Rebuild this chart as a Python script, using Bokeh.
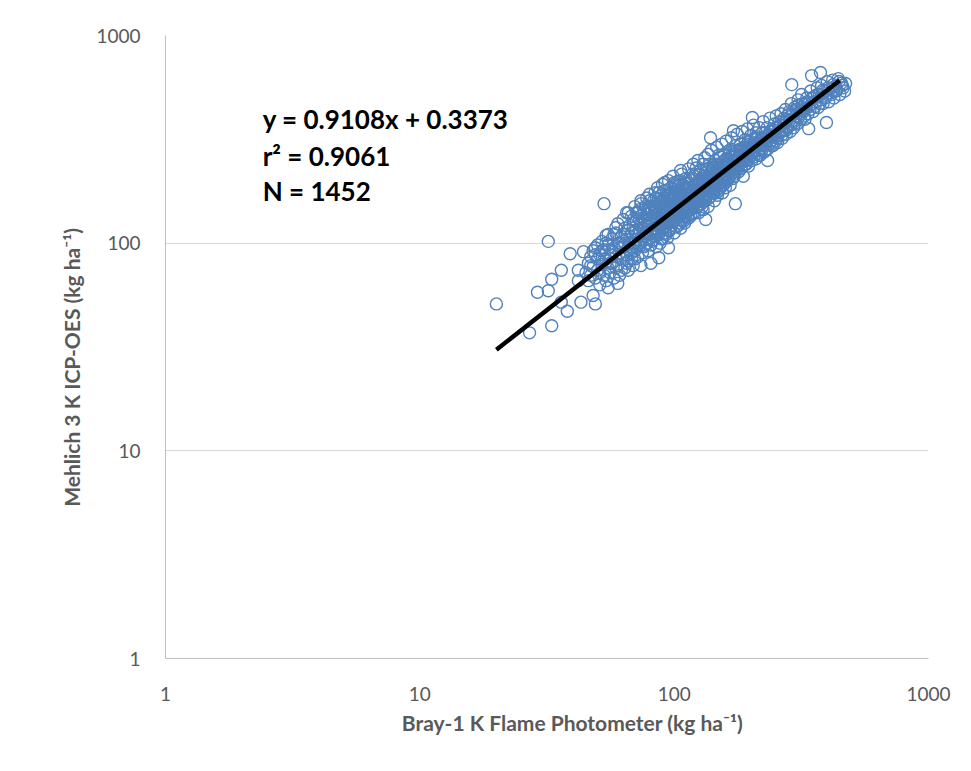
from bokeh.plotting import figure
from bokeh.models import Range1d, FixedTicker, PrintfTickFormatter, Label
from bokeh.embed import file_html
from bokeh.resources import INLINE

# ---- data (Bray-1 K vs Mehlich 3 K, kg/ha) ----
outlier_pts = [(20,51),(27,37),(29,58),(32,59),(33,40),(33,67),(32,102),(36,74),(36,52),(38,47),
    (39,89),(42,74),(42,66),(43,52),(44,91),(46,66),(48,56),(49,51),(49,95),(53,155),(54,109),
    (55,61),(59,119),(60,64),(66,74),(66,140),(74,78),(74,160),(81,80),(87,85),(95,95),(92,196),
    (106,224),(133,130),(139,322),(171,348),(174,155),(203,403),(233,250),(290,580),(338,356),
    (347,641),(376,663),(397,381),(472,587)]

core_pts = [(45,72),(46,80),(47,86),(47,70),(48,92),(48,77),(49,68),(50,84),(50,98),(50,74),
    (51,63),(51,88),(52,79),(52,102),(53,70),(53,93),(54,84),(54,66),(55,98),(55,76),(55,110),
    (56,88),(56,72),(57,105),(57,80),(58,95),(58,68),(59,86),(59,112),(60,78),(60,100),(60,124),
    (61,90),(61,70),(62,108),(62,84),(63,130),(63,96),(64,76),(64,118),(65,88),(65,104),(65,140),
    (66,96),(66,82),(67,122),(67,108),(68,90),(68,135),(69,100),(69,78),(70,115),(70,150),(70,92),
    (71,104),(71,128),(72,86),(72,140),(73,110),(73,96),(74,122),(74,155),(75,90),(75,132),(75,105),
    (76,118),(76,145),(77,98),(77,128),(78,112),(78,165),(79,92),(79,138),(80,120),(80,105),(80,150),(80,172),
    (81,128),(81,98),(82,145),(82,114),(83,160),(83,104),(84,132),(84,175),(85,118),(85,96),(85,148),
    (86,125),(86,185),(87,110),(87,140),(88,158),(88,100),(89,130),(89,170),(90,118),(90,145),(90,192),(90,105),
    (91,135),(91,162),(92,112),(92,150),(93,180),(93,125),(94,140),(94,106),(95,168),(95,130),(95,200),
    (96,115),(96,152),(97,138),(97,185),(98,122),(98,160),(99,142),(99,210),(100,128),(100,175),(100,112),(100,150),
    (102,165),(102,135),(103,198),(104,122),(104,150),(105,180),(105,140),(106,118),(107,162),(107,215),
    (108,145),(108,130),(109,190),(110,155),(110,125),(110,172),
    (111,205),(112,140),(112,168),(113,150),(114,228),(114,132),(115,185),(116,160),(116,145),(117,200),
    (118,138),(118,175),(119,240),(120,155),(120,190),(120,168),
    (121,215),(122,148),(123,180),(124,162),(124,250),(125,140),(125,200),(126,172),(127,225),(128,155),
    (128,188),(129,165),(130,240),(130,145),(130,205),
    (131,178),(132,258),(133,160),(134,195),(134,220),(135,172),(136,150),(136,268),(137,205),(138,185),
    (138,240),(139,168),(140,215),(140,190),(140,280),
    (142,175),(142,232),(143,200),(144,160),(145,250),(145,185),(146,218),(147,290),(148,195),(148,170),
    (149,238),(150,205),(150,180),(150,265),
    (152,222),(153,190),(154,300),(155,175),(155,245),(156,210),(157,268),(158,195),(158,230),(159,185),
    (160,255),(160,215),(160,310),
    (162,200),(163,240),(165,280),(165,220),(166,190),(167,260),(168,322),(169,235),(170,205),(170,275),
    (172,248),(173,215),(174,295),(175,230),(175,265),
    (177,335),(178,250),(179,220),(180,280),(180,240),(182,300),(183,228),(184,265),(185,345),(186,250),
    (187,210),(188,290),(189,270),(190,240),(190,315),
    (192,260),(194,355),(195,285),(196,235),(198,300),(200,270),(200,330),(202,250),(203,290),(205,370),
    (206,275),(208,315),(210,255),(210,340),
    (212,300),(214,280),(216,360),(218,265),(220,320),(222,295),(224,385),(226,275),(228,340),(230,305),
    (232,360),(234,285),(236,330),(238,400),(240,310),
    (243,345),(245,295),(248,375),(250,325),(252,410),(255,305),(258,360),(260,340),(263,420),(266,320),
    (268,385),(270,350),(274,440),(276,335),(278,395),(280,365),
    (283,430),(286,345),(289,470),(292,390),(295,360),(298,450),(300,410),(304,375),(307,490),(310,425),
    (314,395),(317,520),(320,440),(325,410),(328,470),
    (332,500),(336,420),(340,455),(344,540),(348,470),(352,430),(356,510),(360,480),(365,560),(368,450),
    (372,520),(376,490),(380,575),(385,470),(390,540),(395,510),(400,600),(405,480),
    (410,555),(415,520),(420,610),(425,500),(430,570),(436,545),(442,620),(448,520),(455,590),(462,560),(468,540)]

extra_pts = [(62,95),(64,100),(67,92),(69,118),(71,96),(73,130),(76,108),(78,124),(79,148),(81,112),
    (83,136),(84,118),(86,150),(87,128),(88,142),(89,115),(91,148),(92,128),(93,158),(94,170),(96,135),
    (97,160),(98,142),(99,128),(101,150),(101,190),(103,140),(104,170),(106,155),(106,200),(108,170),
    (109,142),(111,160),(111,185),(113,170),(115,150),(115,205),(117,165),(119,180),(119,150),(121,170),
    (122,195),(123,158),(125,178),(126,215),(127,160),(129,190),(131,200),(132,170),(133,225),(135,190),
    (137,180),(139,210),(141,200),(143,230),(144,195),(146,180),(147,240),(149,210),(151,195),(152,260),
    (154,220),(156,235),(157,200),(159,250),(161,230),(163,210),(164,265),(166,240),(168,215),(171,260),
    (172,230),(174,250),(176,280),(178,235),(181,262),(183,285),(185,245),(188,270),(191,290),(193,250),
    (197,275),(199,310),(201,265),(204,300),(207,280),(209,320),(213,270),(217,310),(221,280),(225,320),
    (229,295),(233,330),(237,300),(242,325),(247,350),(251,310),(256,335),(261,370),(265,345),(271,380),
    (277,360),(284,390),(290,410),(296,385),(302,440),(309,405),(316,450),(323,430),(330,445)]

dense_pts = [(47,78),(49,88),(51,72),(52,92),(53,84),(54,100),(56,80),(57,92),(58,110),(59,76),(61,100),(62,74),
    (63,88),(64,110),(65,80),(66,115),(67,100),(68,84),(68,112),(69,130),(70,100),(70,84),(71,140),(72,112),
    (72,98),(73,145),(74,100),(74,135),(75,118),(76,96),(76,130),(77,112),(77,150),(78,100),(78,138),(79,120),
    (80,132),(80,160),(81,140),(82,102),(82,128),(83,118),(83,150),(84,142),(84,108),(85,132),(85,165),(86,112),
    (86,138),(87,155),(87,175),(88,120),(88,132),(89,148),(89,105),(90,160),(90,130),(91,120),(91,178),(92,140),
    (92,165),(93,110),(93,140),(94,155),(94,125),(95,145),(95,115),(96,170),(96,125),(97,118),(97,148),(98,175),
    (98,132),(99,155),(99,165),(100,140),(100,160),(100,195),(101,130),(101,170),(102,148),(102,120),(103,158),
    (103,180),(104,135),(104,190),(105,125),(105,160),(106,140),(106,175),(107,130),(107,150),(108,158),(108,190),
    (109,165),(109,128),(110,140),(110,195),(111,135),(112,180),(112,150),(113,195),(113,135),(114,165),(114,150),
    (115,170),(116,178),(116,135),(117,150),(117,185),(118,160),(118,215),(119,165),(120,140),(120,210),(121,160),
    (122,180),(122,230),(123,170),(124,150),(124,190),(125,165),(126,155),(126,195),(127,180),(128,205),(129,150),
    (130,180),(130,170),(131,160),(132,210),(133,185),(134,170),(135,205),(136,185),(137,165),(137,230),(138,200),
    (139,185),(140,175),(141,225),(142,190),(143,175),(144,215),(145,200),(146,195),(147,175),(148,225),(149,190),
    (150,230),(151,215),(152,185),(153,240),(154,200),(155,225),(156,190),(157,240),(158,210),(159,225),(160,200),
    (161,245),(162,220),(164,205),(165,245),(167,225),(169,250),(170,230),(172,210),(173,270),(175,245),(177,225),
    (179,260),(181,240),(182,275),(184,235),(186,285),(188,250),(190,265),(192,240),(195,305),(197,255),(199,285),
    (202,275),(205,260),(207,300),(210,290),(213,325),(215,265),(218,295),(222,340),(226,300),(230,280),(234,315),
    (238,345),(241,295),(245,330),(250,360),(254,320),(259,385),(264,330),(270,400),(275,350),(281,415),(287,370),
    (293,430),(300,380),(306,460),(313,420),(320,470),(327,395),(334,480),(342,440),(350,500),(358,455),(366,520),
    (375,470),(384,545),(392,500),(402,560),(412,530),(422,580),(432,540),(445,600),(458,575)]

all_pts = outlier_pts + core_pts + extra_pts + dense_pts
bray_k = [p_[0] for p_ in all_pts]
mehlich_k = [p_[1] for p_ in all_pts]

# trend line as drawn in the picture
trend_x = [20, 447]
trend_y = [30.7, 607]

tick_values = [1, 10, 100, 1000]
annot_lines = ["y = 0.9108x + 0.3373", "r\u00b2 = 0.9061", "N = 1452"]
annot_x = 2.41
annot_y = [398, 264, 179]

NB = "\u00a0"
x_title = NB * 10 + "Bray-1 K Flame Photometer (kg ha\u207b\u00b9)"
y_title = "Mehlich 3 K ICP-OES (kg ha\u207b\u00b9)" + NB * 8

# ---- figure ----
W, H = 960, 760
p = figure(width=W, height=H, x_axis_type="log", y_axis_type="log",
           x_range=Range1d(1, 1000), y_range=Range1d(1, 1000),
           output_backend="svg", toolbar_location=None,
           min_border_left=165, min_border_right=W - 928, min_border_top=35, min_border_bottom=H - 658)
p.outline_line_color = None
p.background_fill_color = "white"
p.border_fill_color = "white"

p.xgrid.visible = False
p.ygrid.grid_line_color = "#d9d9d9"
p.ygrid.grid_line_width = 1
p.ygrid.ticker = FixedTicker(ticks=tick_values)

for ax in (p.xaxis[0], p.yaxis[0]):
    ax.ticker = FixedTicker(ticks=tick_values, minor_ticks=[])
    ax.formatter = PrintfTickFormatter(format="%d")
    ax.axis_line_color = "#bfbfbf"
    ax.axis_line_width = 1
    ax.major_tick_line_color = None
    ax.minor_tick_line_color = None
    ax.major_label_text_font = "Lato"
    ax.major_label_text_font_size = "19px"
    ax.major_label_text_color = "#595959"
    ax.axis_label_text_font = "Lato"
    ax.axis_label_text_font_style = "bold"
    ax.axis_label_text_font_size = "21px"
    ax.axis_label_text_color = "#595959"

p.xaxis.axis_label = x_title
p.yaxis.axis_label = y_title
p.xaxis.major_label_standoff = 22
p.yaxis.major_label_standoff = 19
p.xaxis.axis_label_standoff = 6
p.yaxis.axis_label_standoff = 9

p.scatter(bray_k, mehlich_k, marker="circle", size=12, fill_color=None,
          line_color="#4f81bd", line_width=1.4)
p.line(trend_x, trend_y, line_color="black", line_width=4.5)

for txt, yy in zip(annot_lines, annot_y):
    p.add_layout(Label(x=annot_x, y=yy, text=txt, text_font="Lato", text_font_style="bold",
                       text_font_size="26px", text_color="black", text_baseline="middle"))

open("out.html", "w").write(file_html(p, INLINE))
